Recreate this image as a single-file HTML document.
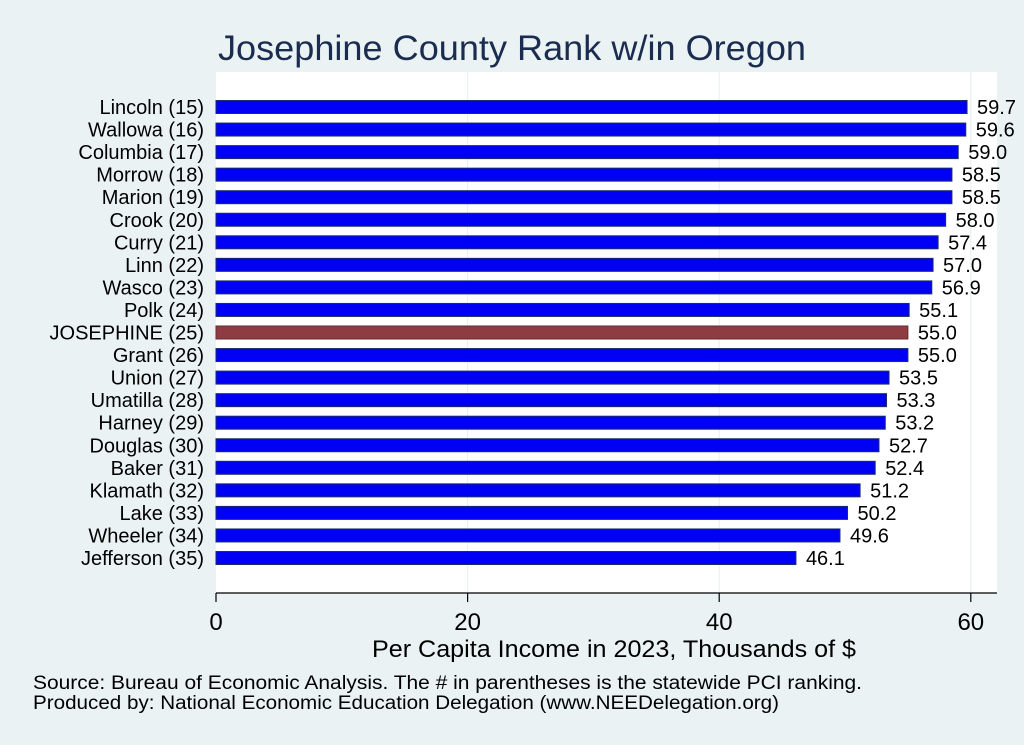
<!DOCTYPE html>
<html><head><meta charset="utf-8"><style>
body{margin:0;background:#eaf2f3;}
svg{display:block;font-family:"Liberation Sans",sans-serif;}
</style></head><body>
<svg id="c" width="1024" height="745">
<rect x="0" y="0" width="1024" height="745" fill="#eaf2f3"/>
<text x="218" y="60" font-size="35" fill="#1a2d50" textLength="588" lengthAdjust="spacingAndGlyphs">Josephine County Rank w/in Oregon</text>
<rect x="216" y="72" width="781" height="521" fill="#ffffff"/>
<g id="grid"></g>
<g id="bars"></g>
<line x1="216" y1="593" x2="997" y2="593" stroke="#000" stroke-width="1.2"/>
<g id="ticks"></g>
<text x="372" y="657" font-size="24" textLength="484" lengthAdjust="spacingAndGlyphs" fill="#000">Per Capita Income in 2023, Thousands of $</text>
<text x="33" y="689" font-size="19" textLength="829" lengthAdjust="spacingAndGlyphs" fill="#000">Source: Bureau of Economic Analysis. The # in parentheses is the statewide PCI ranking.</text>
<text x="33" y="709" font-size="19" textLength="746" lengthAdjust="spacingAndGlyphs" fill="#000">Produced by: National Economic Education Delegation (www.NEEDelegation.org)</text>
</svg>
<script>
const categories=["Lincoln (15)","Wallowa (16)","Columbia (17)","Morrow (18)","Marion (19)","Crook (20)","Curry (21)","Linn (22)","Wasco (23)","Polk (24)","JOSEPHINE (25)","Grant (26)","Union (27)","Umatilla (28)","Harney (29)","Douglas (30)","Baker (31)","Klamath (32)","Lake (33)","Wheeler (34)","Jefferson (35)"];
const values=[59.7,59.6,59.0,58.5,58.5,58.0,57.4,57.0,56.9,55.1,55.0,55.0,53.5,53.3,53.2,52.7,52.4,51.2,50.2,49.6,46.1];
const xTicks=[0,20,40,60];
const highlight="JOSEPHINE (25)";
const NS="http://www.w3.org/2000/svg";
const x=v=>216+v*12.58;
const y=i=>107+i*22.55;
function mk(t,a,p){const e=document.createElementNS(NS,t);for(const k in a)e.setAttribute(k,a[k]);p.appendChild(e);return e;}
const g=document.getElementById('grid'),b=document.getElementById('bars'),tk=document.getElementById('ticks');
xTicks.forEach(t=>{
 if(t>0){const l=mk('line',{x1:x(t),x2:x(t),y1:72,y2:593,stroke:'#e6eef0','stroke-width':1},g);
 
 }
 const m=mk('line',{x1:x(t),x2:x(t),y1:593,y2:602,stroke:'#000','stroke-width':1.2},tk);
 
 
 const tx=mk('text',{x:x(t),y:630,'font-size':24,'text-anchor':'middle'},tk);tx.textContent=t;
 
 
});
categories.forEach((c,i)=>{
 const hi=c===highlight;
 const r=mk('rect',{x:216,y:y(i)-6.5,width:x(values[i])-216,height:13,fill:hi?'#8f3b42':'#0000f5',stroke:hi?'#6a2a30':'#1a2d6a','stroke-width':1},b);
 
 
 const l=mk('text',{x:204,y:y(i)+7,'font-size':20,'text-anchor':'end'},b);l.textContent=c;
 
 
 const v=mk('text',{x:x(values[i])+10,y:y(i)+7,'font-size':20},b);v.textContent=values[i].toFixed(1);
 
 
});
</script>
</body></html>
